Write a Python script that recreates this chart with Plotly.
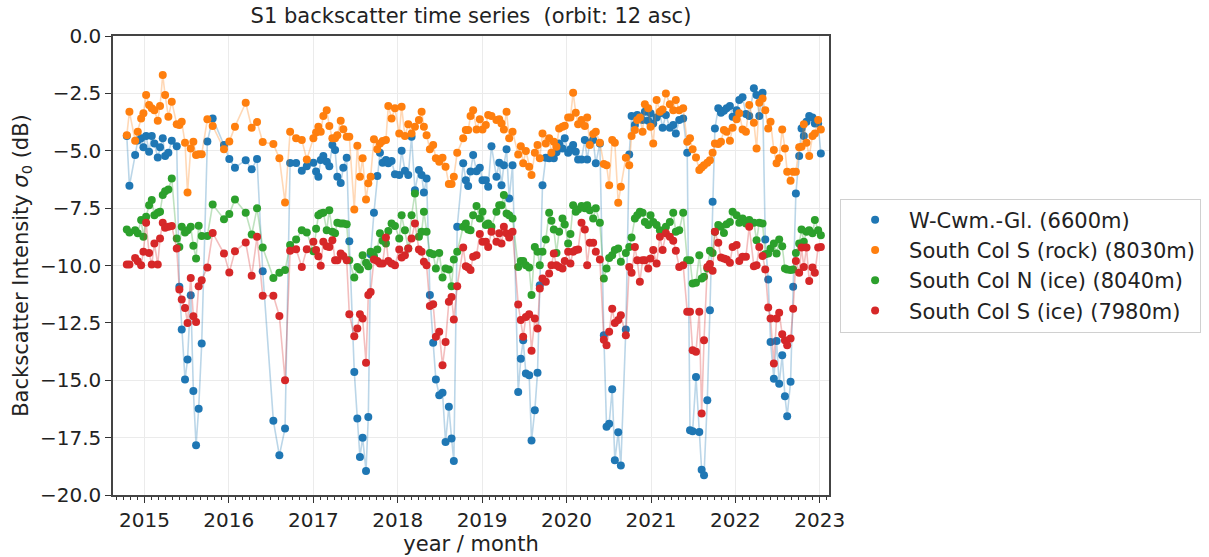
import pandas as pd
import plotly.graph_objects as go

# ---------------- data (acquisition dates as decimal years, values in dB) ----------------
dates_dec = [
    # 2014-2016
    2014.791, 2014.822, 2014.890, 2014.921, 2014.961, 2014.988, 2015.020, 2015.055, 2015.087, 2015.118,
    2015.158, 2015.185, 2015.217, 2015.245, 2015.284, 2015.324, 2015.383, 2015.414, 2015.442, 2015.481,
    2015.511, 2015.549, 2015.580, 2015.612, 2015.643, 2015.679, 2015.746, 2015.809, 2015.943, 2016.006,
    2016.073, 2016.200, 2016.271, 2016.334, 2016.401, 2016.527, 2016.598, 2016.665, 2016.725, 2016.796,
    2016.863, 2016.922,
    # 2017-2019.2
    2017.000, 2017.032, 2017.059, 2017.087, 2017.118, 2017.158, 2017.189, 2017.225, 2017.257, 2017.284,
    2017.324, 2017.355, 2017.395, 2017.426, 2017.485, 2017.521, 2017.552, 2017.584, 2017.624, 2017.651,
    2017.679, 2017.718, 2017.758, 2017.789, 2017.821, 2017.860, 2017.888, 2017.927, 2017.967, 2018.018,
    2018.046, 2018.085, 2018.125, 2018.164, 2018.204, 2018.251, 2018.283, 2018.310, 2018.342, 2018.381,
    2018.420, 2018.452, 2018.492, 2018.531, 2018.567, 2018.606, 2018.638, 2018.665, 2018.705, 2018.776,
    2018.807, 2018.835, 2018.863, 2018.894, 2018.934, 2018.973, 2019.005, 2019.044, 2019.072, 2019.111,
    2019.170,
    # 2019.2-2021.4
    2019.203, 2019.230, 2019.258, 2019.290, 2019.321, 2019.361, 2019.428, 2019.459, 2019.487, 2019.519,
    2019.558, 2019.586, 2019.625, 2019.657, 2019.684, 2019.716, 2019.755, 2019.795, 2019.822, 2019.850,
    2019.882, 2019.913, 2019.953, 2019.980,
    2020.020, 2020.047, 2020.079, 2020.110, 2020.138, 2020.178, 2020.217, 2020.245, 2020.276, 2020.316,
    2020.347, 2020.395, 2020.442, 2020.474, 2020.505, 2020.541, 2020.572, 2020.612, 2020.643, 2020.702,
    2020.742, 2020.770, 2020.809, 2020.837, 2020.868, 2020.900, 2020.927, 2020.967, 2020.994,
    2021.026, 2021.066, 2021.105, 2021.137, 2021.176, 2021.223, 2021.263, 2021.294, 2021.334, 2021.381,
    2021.429,
    # 2021.4-2023
    2021.462, 2021.493, 2021.533, 2021.572, 2021.600, 2021.628, 2021.667, 2021.698, 2021.730, 2021.757,
    2021.797, 2021.829, 2021.864, 2021.896, 2021.935, 2021.967,
    2022.014, 2022.046, 2022.085, 2022.125, 2022.164, 2022.219, 2022.251, 2022.283, 2022.322, 2022.354,
    2022.389, 2022.417, 2022.456, 2022.488, 2022.519, 2022.555, 2022.587, 2022.614, 2022.654, 2022.685,
    2022.717, 2022.756, 2022.784, 2022.811, 2022.843, 2022.875, 2022.914, 2022.942, 2022.981,
    2023.013,
]

w_cwm = [
    -4.36, -6.53, -5.19, -4.55, -4.46, -4.85, -4.36, -5.04, -4.36, -4.68,
    -5.29, -4.85, -4.46, -5.23, -5.09, -4.56, -4.80, -10.93, -12.79, -14.97,
    -14.10, -11.30, -15.47, -17.83, -16.24, -13.40, -4.60, -3.59, -4.75, -5.36,
    -5.74, -5.41, -5.81, -5.36, -10.25, -16.77, -18.27, -17.10, -5.53, -5.53,
    -5.87, -5.67,
    -5.52, -5.90, -6.13, -5.40, -5.23, -5.48, -5.67, -4.75, -4.97, -6.13,
    -6.40, -5.74, -5.30, -8.94, -14.64, -16.67, -18.34, -17.50, -18.95, -16.60,
    -9.51, -7.70, -6.10, -5.09, -5.52, -5.40, -5.55, -5.45, -6.02, -6.06,
    -5.00, -5.87, -6.06, -4.39, -6.72, -5.84, -6.06, -6.82, -6.21, -11.29,
    -13.37, -14.97, -15.65, -15.55, -17.69, -16.16, -17.54, -18.52, -8.31, -5.55,
    -6.28, -6.54, -5.90, -5.19, -5.89, -5.74, -6.28, -6.28, -6.57, -4.80,
    -6.13,
    -5.52, -6.50, -5.63, -4.94, -7.08, -5.63, -15.51, -14.06, -13.26, -14.71,
    -14.78, -17.62, -16.31, -14.67, -10.86, -6.50, -5.31, -5.33, -5.20, -5.33,
    -5.07, -4.68, -4.90, -4.46,
    -5.09, -4.94, -4.75, -5.04, -5.38, -5.38, -4.53, -5.38, -4.65, -4.53,
    -5.55, -4.68, -13.04, -17.03, -16.89, -15.39, -18.49, -17.27, -18.71, -12.79,
    -5.16, -3.49, -3.88, -3.44, -3.55, -3.66, -3.30, -3.69, -3.37,
    -3.81, -3.55, -3.37, -4.00, -3.44, -4.00, -3.88, -4.25, -3.66, -3.59,
    -5.09,
    -17.18, -17.22, -14.86, -17.25, -18.90, -19.14, -15.87, -11.95, -7.22, -4.03,
    -3.15, -3.34, -3.26, -3.15, -3.05, -3.52,
    -3.23, -2.79, -2.67, -3.40, -3.49, -2.28, -2.57, -3.49, -2.47, -8.87,
    -10.61, -13.33, -14.93, -13.29, -15.15, -13.91, -15.70, -16.57, -15.07, -10.93,
    -6.86, -5.23, -4.03, -4.36, -3.74, -3.49, -3.55, -3.81, -3.81,
    -5.12,
]

scs_rock = [
    -4.32, -3.30, -4.56, -4.17, -3.59, -3.37, -2.57, -3.01, -3.15, -3.23,
    -3.69, -3.05, -1.70, -2.57, -3.52, -2.86, -3.84, -3.88, -3.74, -4.65,
    -6.82, -4.90, -4.61, -5.19, -5.15, -5.15, -3.63, -3.92, -4.93, -4.60,
    -3.95, -2.91, -4.00, -3.75, -4.62, -4.71, -5.33, -7.25, -4.17, -4.46,
    -4.53, -5.38,
    -4.46, -4.20, -3.95, -4.17, -3.49, -3.23, -3.92, -4.46, -4.46, -4.32,
    -3.69, -4.06, -4.39, -4.39, -7.56, -4.78, -6.13, -5.33, -7.12, -6.42,
    -6.13, -4.50, -4.94, -4.68, -4.58, -4.53, -3.05, -3.59, -3.15, -4.25,
    -3.08, -4.36, -3.85, -4.25, -3.95, -3.66, -3.30, -3.95, -4.32, -4.94,
    -4.75, -5.33, -5.48, -5.30, -5.70, -6.45, -6.45, -6.13, -5.09, -4.46,
    -4.10, -4.10, -3.49, -3.23, -4.07, -3.63, -4.07, -3.88, -3.44, -3.49,
    -3.66,
    -3.63, -3.81, -4.07, -3.30, -4.46, -4.17, -5.16, -4.80, -5.55, -5.01,
    -5.70, -6.06, -5.09, -4.75, -5.33, -4.25, -4.68, -4.46, -5.09, -4.61,
    -4.83, -4.03, -3.95, -3.91,
    -3.55, -3.55, -2.47, -3.34, -3.84, -3.66, -3.92, -3.55, -4.75, -4.27,
    -4.17, -4.65, -5.58, -5.63, -6.50, -4.53, -4.65, -7.27, -6.57, -5.30,
    -5.63, -4.36, -4.10, -3.66, -3.55, -4.17, -2.97, -3.15, -3.95,
    -4.68, -2.79, -3.30, -3.20, -2.50, -2.97, -3.23, -2.79, -3.23, -3.15,
    -4.61,
    -4.46, -4.94, -5.29, -5.84, -5.73, -5.63, -5.52, -5.41, -5.09, -4.68,
    -4.71, -4.61, -4.10, -4.17, -4.56, -4.00,
    -3.63, -3.37, -4.07, -4.17, -3.01, -3.78, -4.90, -2.91, -2.72, -3.23,
    -4.03, -3.74, -4.97, -5.55, -5.33, -4.07, -4.90, -5.92, -6.31, -5.92,
    -5.92, -4.85, -4.83, -3.84, -4.65, -5.23, -4.36, -4.25, -3.66,
    -4.07,
]

scn_ice = [
    -8.43, -8.56, -8.46, -8.60, -8.02, -8.75, -7.88, -7.37, -7.15, -7.81,
    -7.70, -7.66, -6.93, -6.76, -6.69, -6.21, -8.82, -9.19, -8.31, -8.56,
    -8.46, -8.31, -9.14, -9.69, -8.27, -8.72, -8.71, -7.34, -7.98, -7.76,
    -7.12, -7.70, -8.65, -7.51, -9.22, -10.54, -10.32, -10.20, -9.11, -8.87,
    -8.46, -8.56,
    -9.38, -8.40, -7.81, -7.73, -7.70, -8.46, -7.59, -8.53, -8.60, -8.14,
    -8.17, -8.17, -8.20, -9.77, -10.52, -10.06, -10.17, -9.55, -9.88, -10.03,
    -9.40, -9.60, -9.30, -8.60, -8.92, -9.04, -8.50, -8.17, -8.28, -8.82,
    -7.81, -8.46, -9.26, -7.81, -6.86, -8.75, -8.53, -7.66, -8.53, -9.45,
    -9.51, -10.13, -9.45, -10.52, -10.13, -10.17, -10.90, -9.74, -9.40, -8.31,
    -8.17, -8.43, -8.46, -7.81, -7.41, -7.95, -7.66, -8.24, -8.17, -8.31,
    -7.66,
    -7.37, -7.37, -6.93, -7.73, -7.81, -7.95, -10.06, -9.80, -9.80, -9.99,
    -10.09, -11.29, -9.19, -9.40, -9.99, -9.40, -8.87, -7.70, -8.05, -8.43,
    -9.45, -8.53, -7.95, -8.21,
    -9.04, -8.63, -7.37, -7.66, -7.56, -7.41, -7.51, -7.37, -7.59, -7.95,
    -7.51, -8.14, -10.57, -10.13, -9.67, -9.55, -9.33, -9.26, -9.84, -9.45,
    -9.19, -8.78, -7.95, -7.81, -7.66, -7.70, -8.10, -8.24, -7.81,
    -8.10, -8.24, -8.46, -8.53, -8.31, -8.10, -7.70, -8.53, -8.46, -7.70,
    -9.77,
    -9.77, -10.78, -10.75, -9.55, -10.57, -10.49, -10.13, -9.36, -9.45, -8.53,
    -8.24, -8.31, -8.58, -8.20, -8.10, -7.66,
    -7.81, -8.14, -7.95, -8.17, -8.02, -8.14, -8.90, -8.14, -8.17, -9.51,
    -9.48, -9.26, -9.04, -9.48, -8.87, -9.16, -10.13, -10.17, -10.20, -10.17,
    -9.45, -9.04, -8.43, -8.97, -8.53, -8.46, -8.60, -8.02, -8.46,
    -8.68,
]

scs_ice = [
    -9.96, -9.96, -9.67, -9.81, -9.99, -9.40, -8.14, -9.45, -9.96, -9.04,
    -9.96, -8.82, -8.14, -8.36, -8.31, -8.28, -9.26, -11.05, -11.48, -11.85,
    -12.50, -10.54, -12.21, -12.46, -10.90, -10.64, -10.09, -8.58, -9.48, -10.30,
    -9.38, -9.00, -10.45, -8.75, -11.32, -11.32, -12.20, -15.00, -9.36, -9.29,
    -10.06, -9.29,
    -8.97, -9.33, -9.60, -10.01, -8.97, -9.16, -9.19, -8.90, -9.77, -9.77,
    -9.48, -9.59, -9.77, -12.12, -13.08, -12.75, -12.12, -12.31, -14.24, -11.29,
    -11.15, -9.74, -9.80, -9.91, -9.91, -8.78, -9.80, -9.91, -9.99, -9.30,
    -9.65, -9.55, -9.26, -8.82, -8.17, -9.30, -9.40, -9.84, -9.99, -11.77,
    -11.69, -13.11, -12.89, -14.35, -13.33, -11.58, -11.37, -12.35, -10.90, -9.22,
    -10.03, -10.09, -10.20, -9.62, -9.55, -8.63, -8.97, -8.97, -9.19, -8.53,
    -8.97,
    -8.60, -9.04, -8.31, -8.60, -8.78, -8.53, -11.70, -12.38, -13.11, -12.24,
    -12.12, -13.72, -12.31, -12.75, -11.00, -10.57, -10.71, -10.35, -9.99, -9.48,
    -9.99, -10.06, -10.13, -9.80,
    -9.40, -9.91, -9.40, -9.33, -9.30, -8.14, -8.43, -9.99, -9.01, -9.01,
    -9.40, -9.74, -13.23, -13.47, -12.89, -11.88, -12.50, -12.38, -12.17, -13.04,
    -10.06, -10.32, -9.19, -9.77, -10.71, -9.77, -9.77, -10.13, -9.69,
    -9.33, -9.91, -8.75, -9.33, -8.60, -8.75, -8.92, -9.36, -10.06, -9.99,
    -12.02,
    -12.02, -13.69, -13.76, -12.02, -16.45, -13.26, -10.06, -9.94, -10.23, -8.53,
    -9.01, -9.65, -9.69, -9.74, -9.88, -9.19,
    -9.11, -9.80, -9.62, -9.62, -8.31, -10.03, -9.99, -9.19, -9.59, -10.17,
    -11.83, -12.31, -14.27, -12.31, -12.06, -13.00, -13.26, -13.47, -13.18, -11.88,
    -9.80, -10.32, -9.22, -10.06, -9.22, -10.67, -10.09, -10.32, -9.22,
    -9.19,
]

series_names = [
    "W-Cwm.-Gl. (6600m)",
    "South Col S (rock) (8030m)",
    "South Col N (ice) (8040m)",
    "South Col S (ice) (7980m)",
]
series_values = [w_cwm, scs_rock, scn_ice, scs_ice]
colors = ["#1f77b4", "#ff7f0e", "#2ca02c", "#d62728"]
line_colors = ["rgba(31,119,180,0.3)", "rgba(255,127,14,0.3)",
               "rgba(44,160,44,0.3)", "rgba(214,39,40,0.3)"]


def dec_to_ts(y):
    yr = int(y)
    start = pd.Timestamp(year=yr, month=1, day=1)
    end = pd.Timestamp(year=yr + 1, month=1, day=1)
    return start + (end - start) * (y - yr)


dates = [dec_to_ts(d) for d in dates_dec]

FONT = "DejaVu Sans"
fig = go.Figure()
for name, vals, c, lc in zip(series_names, series_values, colors, line_colors):
    fig.add_trace(go.Scatter(x=dates, y=vals, mode="lines",
                             line=dict(color=lc, width=1.6),
                             showlegend=False, hoverinfo="skip"))
    fig.add_trace(go.Scatter(x=dates, y=vals, mode="markers", name=name,
                             marker=dict(color=c, size=8)))

fig.update_layout(
    width=1209, height=557,
    margin=dict(l=113, r=380, t=36, b=62, autoexpand=False),
    paper_bgcolor="white", plot_bgcolor="white",
    font=dict(family=FONT, size=20, color="#222"),
    title=dict(text="S1 backscatter time series \u00a0(orbit: 12 asc)",
               x=(113 + 829) / 2 / 1209, xanchor="center",
               y=1 - 16 / 557, yanchor="middle", yref="container",
               font=dict(family=FONT, size=21, color="#222")),
    legend=dict(x=1.0155, xanchor="left", y=0.5, yanchor="middle",
                bgcolor="white", bordercolor="#d0d0d0", borderwidth=1,
                font=dict(family=FONT, size=21, color="#222"),
                itemwidth=58, tracegroupgap=0),
    showlegend=True,
)

fig.update_xaxes(
    type="date", automargin=False,
    range=["2014-08-18", "2023-02-10"],
    tick0="2015-01-01", dtick="M12", tickformat="%Y",
    ticks="outside", ticklen=6, tickwidth=1.2, tickcolor="#333",
    showgrid=True, gridcolor="#ebebeb", gridwidth=1,
    showline=True, linecolor="#444", linewidth=1.5, mirror=True,
    zeroline=False,
    minor=dict(dtick="M1", ticks="outside", ticklen=3, tickcolor="#333", showgrid=False),
    title=dict(text="year / month", standoff=4, font=dict(family=FONT, size=21)),
    tickfont=dict(family=FONT, size=20),
)
fig.update_yaxes(
    automargin=False,
    range=[-20, 0], dtick=2.5, tick0=0, tickformat=".1f",
    ticks="outside", ticklen=6, tickwidth=1.2, tickcolor="#333",
    showgrid=True, gridcolor="#ebebeb", gridwidth=1,
    showline=True, linecolor="#444", linewidth=1.5, mirror=True,
    zeroline=False,
    title=dict(text="Backscatter Intensity <i>σ</i><sub>0</sub> (dB)", standoff=6,
               font=dict(family=FONT, size=21)),
    tickfont=dict(family=FONT, size=20),
)

fig.write_html("out.html", config={"displayModeBar": False},
               post_script="document.body.style.margin='0';")
